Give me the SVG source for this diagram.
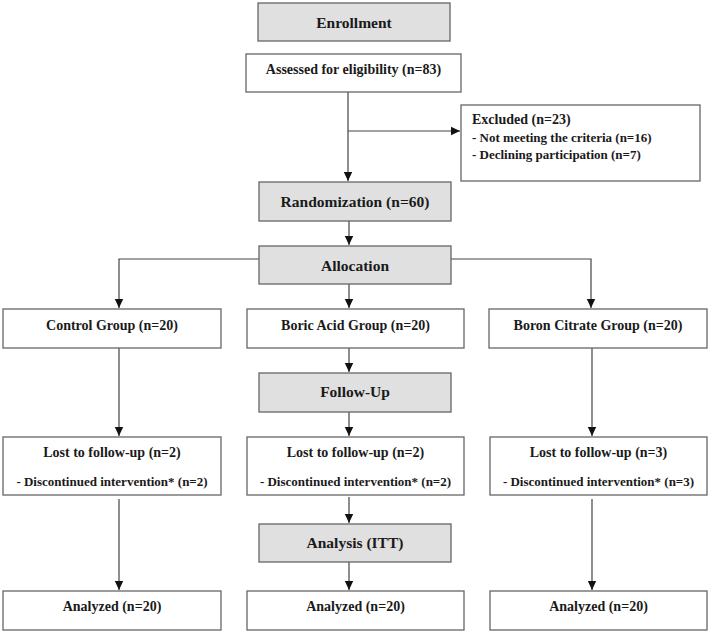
<svg xmlns="http://www.w3.org/2000/svg" width="709" height="632" viewBox="0 0 709 632">
<defs>
<marker id="ah" markerWidth="10" markerHeight="10" refX="9" refY="5" orient="auto" markerUnits="userSpaceOnUse">
<path d="M0,0.8 L9,5 L0,9.2 Z" fill="#111"/>
</marker>
<style>
.box{fill:#fff;stroke:#666;stroke-width:1.3}
.hdr{fill:#e0e0e0;stroke:#666;stroke-width:1.3}
.t{font-family:"Liberation Serif","Times New Roman",serif;font-weight:bold;fill:#1a1a1a;text-anchor:middle}
.h{font-size:15.5px}
.n{font-size:14px}
.s{font-size:13px}
.l{text-anchor:start}
.c{fill:none;stroke:#444;stroke-width:1.2}
</style>
</defs>
<rect width="709" height="632" fill="#fff"/>
<g id="connectors">
<path class="c" d="M348,92 V181" marker-end="url(#ah)"/>
<path class="c" d="M348,131 H460" marker-end="url(#ah)"/>
<path class="c" d="M349,221 V245" marker-end="url(#ah)"/>
<path class="c" d="M259,259 H119 V308" marker-end="url(#ah)"/>
<path class="c" d="M451,259 H591 V308" marker-end="url(#ah)"/>
<path class="c" d="M349,284 V308" marker-end="url(#ah)"/>
<path class="c" d="M119,348 V436" marker-end="url(#ah)"/>
<path class="c" d="M349,348 V372" marker-end="url(#ah)"/>
<path class="c" d="M349,412 V436" marker-end="url(#ah)"/>
<path class="c" d="M592,348 V436" marker-end="url(#ah)"/>
<path class="c" d="M119,499 V590" marker-end="url(#ah)"/>
<path class="c" d="M349,497 V523" marker-end="url(#ah)"/>
<path class="c" d="M349,562 V590" marker-end="url(#ah)"/>
<path class="c" d="M592,499 V590" marker-end="url(#ah)"/>
</g>
<g id="enrollment"><rect class="hdr" x="258" y="3" width="192" height="38"/><text class="t h" x="354" y="28">Enrollment</text></g>
<g id="assessed"><rect class="box" x="246" y="54" width="215" height="38"/><text class="t n" x="353.5" y="74">Assessed for eligibility (n=83)</text></g>
<g id="excluded"><rect class="box" x="461" y="105" width="239" height="76"/>
<text class="t n l" x="472" y="124">Excluded (n=23)</text>
<text class="t s l" x="472" y="142">- Not meeting the criteria (n=16)</text>
<text class="t s l" x="472" y="159">- Declining participation (n=7)</text></g>
<g id="randomization"><rect class="hdr" x="259" y="182" width="192" height="39"/><text class="t h" x="355" y="207">Randomization (n=60)</text></g>
<g id="allocation"><rect class="hdr" x="259" y="246" width="192" height="38"/><text class="t h" x="355" y="271">Allocation</text></g>
<g id="control"><rect class="box" x="3" y="309" width="218" height="39"/><text class="t n" x="112" y="330">Control Group (n=20)</text></g>
<g id="boric"><rect class="box" x="247" y="309" width="217" height="39"/><text class="t n" x="355.5" y="330">Boric Acid Group (n=20)</text></g>
<g id="citrate"><rect class="box" x="489" y="309" width="218" height="39"/><text class="t n" x="598" y="330">Boron Citrate Group (n=20)</text></g>
<g id="followup"><rect class="hdr" x="259" y="373" width="192" height="39"/><text class="t h" x="355" y="397">Follow-Up</text></g>
<g id="lost1"><rect class="box" x="3" y="437" width="218" height="58"/>
<text class="t n" x="112" y="457">Lost to follow-up (n=2)</text>
<text class="t s" x="112" y="486">- Discontinued intervention* (n=2)</text></g>
<g id="lost2"><rect class="box" x="247" y="437" width="217" height="58"/>
<text class="t n" x="355.5" y="457">Lost to follow-up (n=2)</text>
<text class="t s" x="355.5" y="486">- Discontinued intervention* (n=2)</text></g>
<g id="lost3"><rect class="box" x="490" y="437" width="217" height="58"/>
<text class="t n" x="598.5" y="457">Lost to follow-up (n=3)</text>
<text class="t s" x="598.5" y="486">- Discontinued intervention* (n=3)</text></g>
<g id="analysis"><rect class="hdr" x="259" y="524" width="192" height="38"/><text class="t h" x="355" y="548">Analysis (ITT)</text></g>
<g id="analyzed1"><rect class="box" x="3" y="591" width="218" height="39"/><text class="t n" x="112" y="611">Analyzed (n=20)</text></g>
<g id="analyzed2"><rect class="box" x="247" y="591" width="217" height="39"/><text class="t n" x="355.5" y="611">Analyzed (n=20)</text></g>
<g id="analyzed3"><rect class="box" x="490" y="591" width="217" height="39"/><text class="t n" x="598.5" y="611">Analyzed (n=20)</text></g>
</svg>
